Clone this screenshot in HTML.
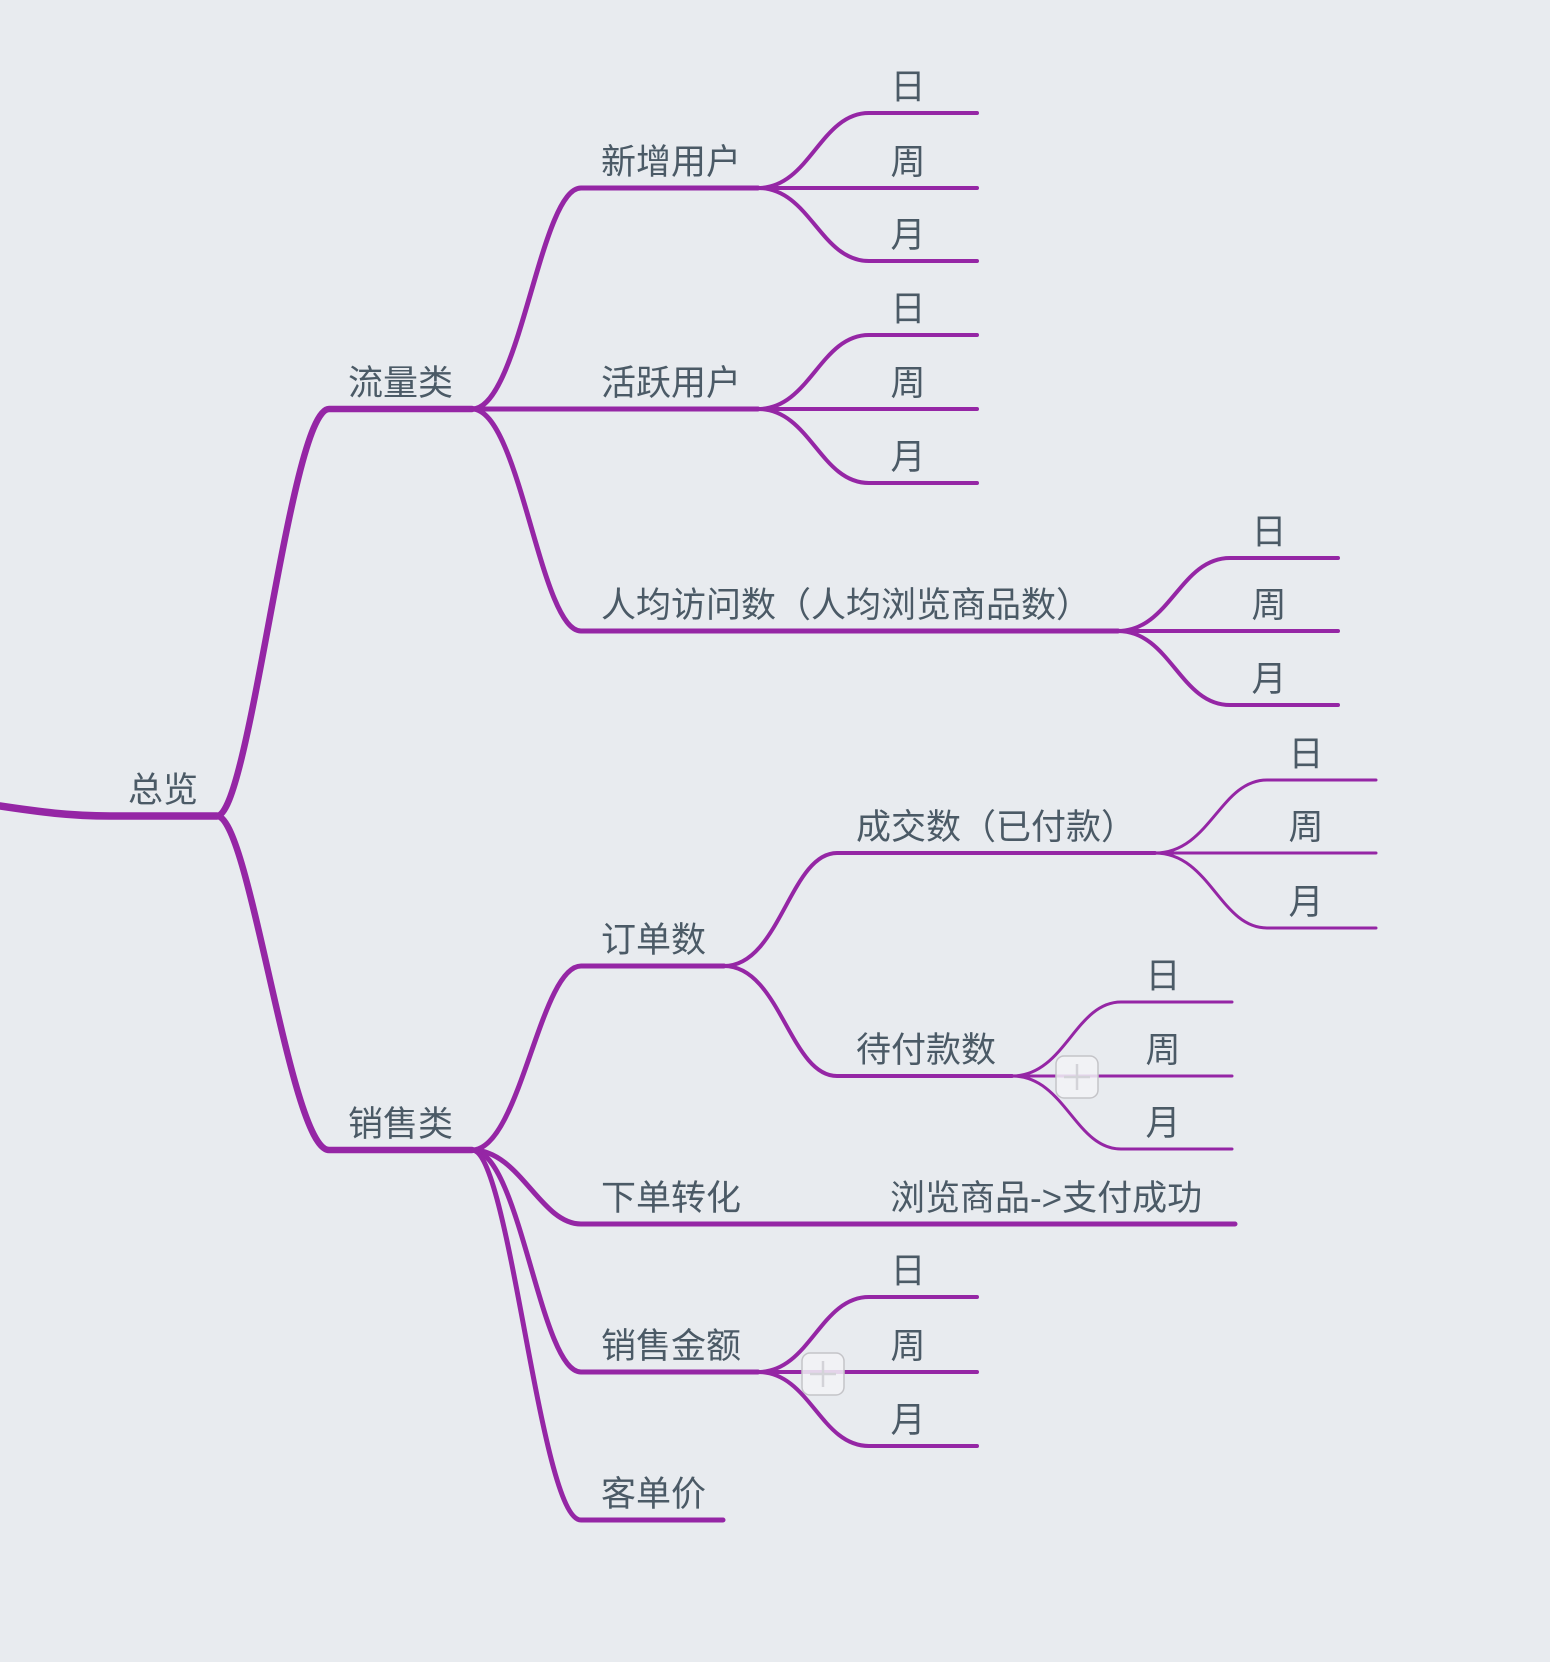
<!DOCTYPE html>
<html><head><meta charset="utf-8"><style>
html,body{margin:0;padding:0;background:#e8ebef;}
svg{display:block}
text{font-family:"Liberation Sans","Noto Sans CJK SC",sans-serif;font-size:35px;fill:#4b5a66;}
</style></head><body>
<svg width="1550" height="1662" viewBox="0 0 1550 1662" xmlns="http://www.w3.org/2000/svg">
<g fill="none" stroke="#9526a5" stroke-linecap="round">
<path d="M0 806 C40 812 70 816 110 816 L217 816" stroke-width="7.5"/>
<path d="M217 816 C250 816 290 409 329 409 L472 409" stroke-width="6.5"/>
<path d="M217 816 C250 816 290 1150 329 1150 L472 1150" stroke-width="6.5"/>
<g stroke-width="5">
<path d="M472 409 C520 409 540 188 581 188 L758 188"/>
<path d="M472 409 L758 409"/>
<path d="M472 409 C520 409 540 631 581 631 L1118 631"/>
</g>
<g stroke-width="5">
<path d="M472 1150 C520 1150 540 966 581 966 L724 966"/>
<path d="M472 1150 C520 1150 540 1224 581 1224 L1235 1224"/>
<path d="M472 1150 C520 1150 540 1372 581 1372 L758 1372"/>
<path d="M472 1150 C510 1150 540 1520 581 1520 L723 1520"/>
</g>
<g stroke-width="4">
<path d="M724 966 C780 966 790 853 837 853 L1155 853"/>
<path d="M724 966 C780 966 790 1076 837 1076 L1012 1076"/>
</g>
<g stroke-width="4">
<path d="M758 188 C810 188 820 113 869 113 L977 113"/>
<path d="M758 188 L977 188"/>
<path d="M758 188 C810 188 820 261 869 261 L977 261"/>
<path d="M758 409 C810 409 820 335 869 335 L977 335"/>
<path d="M758 409 L977 409"/>
<path d="M758 409 C810 409 820 483 869 483 L977 483"/>
<path d="M1118 631 C1170 631 1180 558 1230 558 L1338 558"/>
<path d="M1118 631 L1338 631"/>
<path d="M1118 631 C1170 631 1180 705 1230 705 L1338 705"/>
<path d="M758 1372 C810 1372 820 1297 869 1297 L977 1297"/>
<path d="M758 1372 L977 1372"/>
<path d="M758 1372 C810 1372 820 1446 869 1446 L977 1446"/>
</g>
<g stroke-width="3">
<path d="M1155 853 C1210 853 1220 780 1267 780 L1376 780"/>
<path d="M1155 853 L1376 853"/>
<path d="M1155 853 C1210 853 1220 928 1267 928 L1376 928"/>
<path d="M1012 1076 C1065 1076 1075 1002 1121 1002 L1232 1002"/>
<path d="M1012 1076 L1232 1076"/>
<path d="M1012 1076 C1065 1076 1075 1149 1121 1149 L1232 1149"/>
</g>
</g>
<g>
<rect x="1056" y="1056" width="42" height="42" rx="8" fill="#f2f3f6" fill-opacity="0.85" stroke="#c4c4c8" stroke-width="1.5"/>
<path d="M1077 1064 V1090 M1064 1077 H1090" stroke="#d3d3d8" stroke-width="2.5"/>
<rect x="802" y="1353" width="42" height="42" rx="8" fill="#f2f3f6" fill-opacity="0.85" stroke="#c4c4c8" stroke-width="1.5"/>
<path d="M823 1361 V1387 M810 1374 H836" stroke="#d3d3d8" stroke-width="2.5"/>
</g>
<text x="128" y="802">总览</text>
<text x="348" y="395">流量类</text>
<text x="348" y="1136">销售类</text>
<text x="601" y="174">新增用户</text>
<text x="601" y="395">活跃用户</text>
<text x="601" y="617">人均访问数（人均浏览商品数）</text>
<text x="601" y="952">订单数</text>
<text x="856" y="839">成交数（已付款）</text>
<text x="856" y="1062">待付款数</text>
<text x="601" y="1210">下单转化</text>
<text x="890" y="1210">浏览商品-&gt;支付成功</text>
<text x="601" y="1358">销售金额</text>
<text x="601" y="1506">客单价</text>
<g text-anchor="middle">
<text x="908" y="99">日</text><text x="908" y="174">周</text><text x="908" y="247">月</text>
<text x="908" y="321">日</text><text x="908" y="395">周</text><text x="908" y="469">月</text>
<text x="1269" y="544">日</text><text x="1269" y="617">周</text><text x="1269" y="691">月</text>
<text x="1306" y="766">日</text><text x="1306" y="839">周</text><text x="1306" y="914">月</text>
<text x="1163" y="988">日</text><text x="1163" y="1062">周</text><text x="1163" y="1135">月</text>
<text x="908" y="1283">日</text><text x="908" y="1358">周</text><text x="908" y="1432">月</text>
</g>
</svg>
</body></html>
